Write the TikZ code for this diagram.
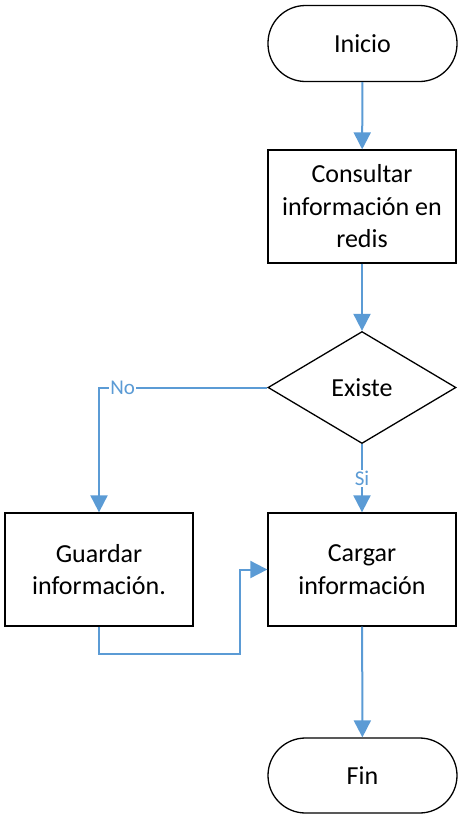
\documentclass[tikz,border=0pt]{standalone}
\usepackage{fontspec}
\setmainfont{Carlito}
\usetikzlibrary{arrows.meta,shapes.geometric}
\definecolor{lineblue}{HTML}{5B9BD5}
\begin{document}
\begin{tikzpicture}[x=1pt,y=-1pt,
  txt/.style={align=center, font=\fontsize{26}{32.5}\selectfont, inner sep=0pt},
  procbox/.style={txt, draw=black, line width=1.3pt, minimum width=188pt, minimum height=113pt},
  termbox/.style={txt, draw=black, line width=1.3pt, minimum width=189pt, minimum height=76pt, rounded corners=37.5pt},
  decbox/.style={txt, draw=black, line width=1.3pt, diamond, minimum width=188pt, minimum height=112pt},
  flow/.style={draw=lineblue, line width=2pt, -{Triangle[length=17pt,width=17pt]}},
  lbl/.style={text=lineblue, fill=white, inner sep=1pt, font=\fontsize{21}{24}\selectfont}]
\useasboundingbox (0,0) rectangle (459,815);
\node[termbox] (ini) at (362.5,43.5) {Inicio};
\node[procbox] (con) at (362,206.5) {Consultar\\información en\\redis};
\node[decbox] (ex) at (362,387.5) {Existe};
\node[procbox] (gua) at (99,569.5) {Guardar\\información.};
\node[procbox] (car) at (362,569.5) {Cargar\\información};
\node[termbox, minimum height=75pt] (fin) at (362.5,775.5) {Fin};
\coordinate (k) at (240,654);
\draw[flow] (ini) -- (con);
\draw[flow] (con) -- (ex);
\draw[flow] (ex.south) -- node[lbl, pos=0.5] {Si} (car.north);
\draw[flow] (ex.west) -| node[lbl, pos=0.43] {No} (gua.north);
\draw[flow] (gua.south) |- (k) |- (car.west);
\draw[flow] (car) -- (fin);
\end{tikzpicture}
\end{document}
